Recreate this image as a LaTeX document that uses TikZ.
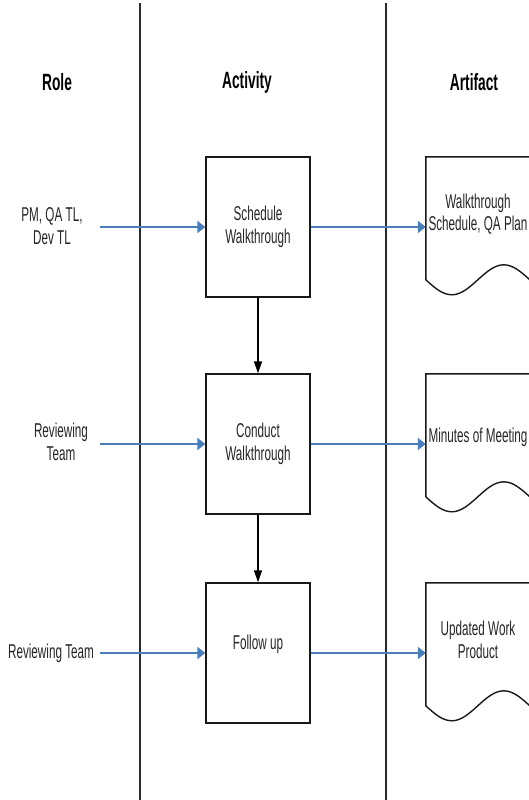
\documentclass[tikz,border=0pt]{standalone}
\usepackage{fontspec}
\setmainfont{Liberation Sans}[FakeStretch=0.585]
\usetikzlibrary{arrows.meta}
\definecolor{flowblue}{HTML}{4A7EBB}
\definecolor{lanegray}{HTML}{2B2B2B}
\begin{document}
\begin{tikzpicture}[x=1pt,y=-1pt,
  lbl/.style={font=\fontsize{20}{22.5}\selectfont, align=center, inner sep=0pt, text=black!85},
  hdr/.style={font=\fontsize{23.5}{26}\selectfont\bfseries, inner sep=0pt},
  actbox/.style={draw=black!90, line width=1.4pt, minimum width=104pt, minimum height=140pt, inner sep=0pt, lbl},
  docarea/.style={minimum width=104pt, minimum height=140pt, inner sep=0pt},
  docshape/.style={draw=black!90, line width=1.4pt},
  flow/.style={draw=flowblue, line width=2pt, -{Triangle[length=8pt,width=12pt]}},
  seq/.style={draw=black, line width=1.4pt, -{Triangle[length=12pt,width=8pt]}},
  lane/.style={draw=lanegray, line width=2pt}]
\useasboundingbox (0,0) rectangle (528,800);
\fill[white] (0,0) rectangle (528,800);

% swim lane separators
\coordinate (l1t) at (140,3);
\coordinate (l1b) at (140,800);
\coordinate (l2t) at (386,3);
\coordinate (l2b) at (386,800);
\draw[lane] (l1t) -- (l1b);
\draw[lane] (l2t) -- (l2b);

% headers
\node[hdr] (hrole) at (57,82) {Role};
\node[hdr] (hact) at (247,82) {Activity};
\node[hdr] (hart) at (474,82) {Artifact};

% roles
\node[lbl] (r1) at (52,226) {PM, QA TL,\\Dev TL};
\node[lbl] (r2) at (61,442) {Reviewing\\Team};
\node[lbl] (r3) at (51,653) {Reviewing Team};
\coordinate (s1) at (100,227);
\coordinate (s2) at (100,444);
\coordinate (s3) at (100,653);

% activities
\node[actbox] (b1) at (258,227) {Schedule\\Walkthrough};
\node[actbox] (b2) at (258,444) {Conduct\\Walkthrough};
\node[actbox] (b3) at (258,653) {Follow up\\\mbox{}};

% artifacts
\node[docarea] (a1) at (478,227) {};
\node[docarea] (a2) at (478,444) {};
\node[docarea] (a3) at (478,653) {};
\foreach \a in {a1,a2,a3}{
  \draw[docshape] (\a.north east) -- (\a.north west) -- ++(0,123)
    sin ++(26,15) cos ++(26,-15) sin ++(26,-15) cos ++(26,15) -- (\a.north east);
}
\node[lbl] (t1) at (478,214) {Walkthrough\\Schedule, QA Plan};
\node[lbl] (t2) at (478,437) {Minutes of Meeting};
\node[lbl] (t3) at (478,640) {Updated Work\\Product};

% connectors
\draw[flow] (s1) -- (b1.west);
\draw[flow] (s2) -- (b2.west);
\draw[flow] (s3) -- (b3.west);
\draw[flow] (b1.east) -- (a1.west);
\draw[flow] (b2.east) -- (a2.west);
\draw[flow] (b3.east) -- (a3.west);
\draw[seq] (b1.south) -- (b2.north);
\draw[seq] (b2.south) -- (b3.north);
\end{tikzpicture}
\end{document}
